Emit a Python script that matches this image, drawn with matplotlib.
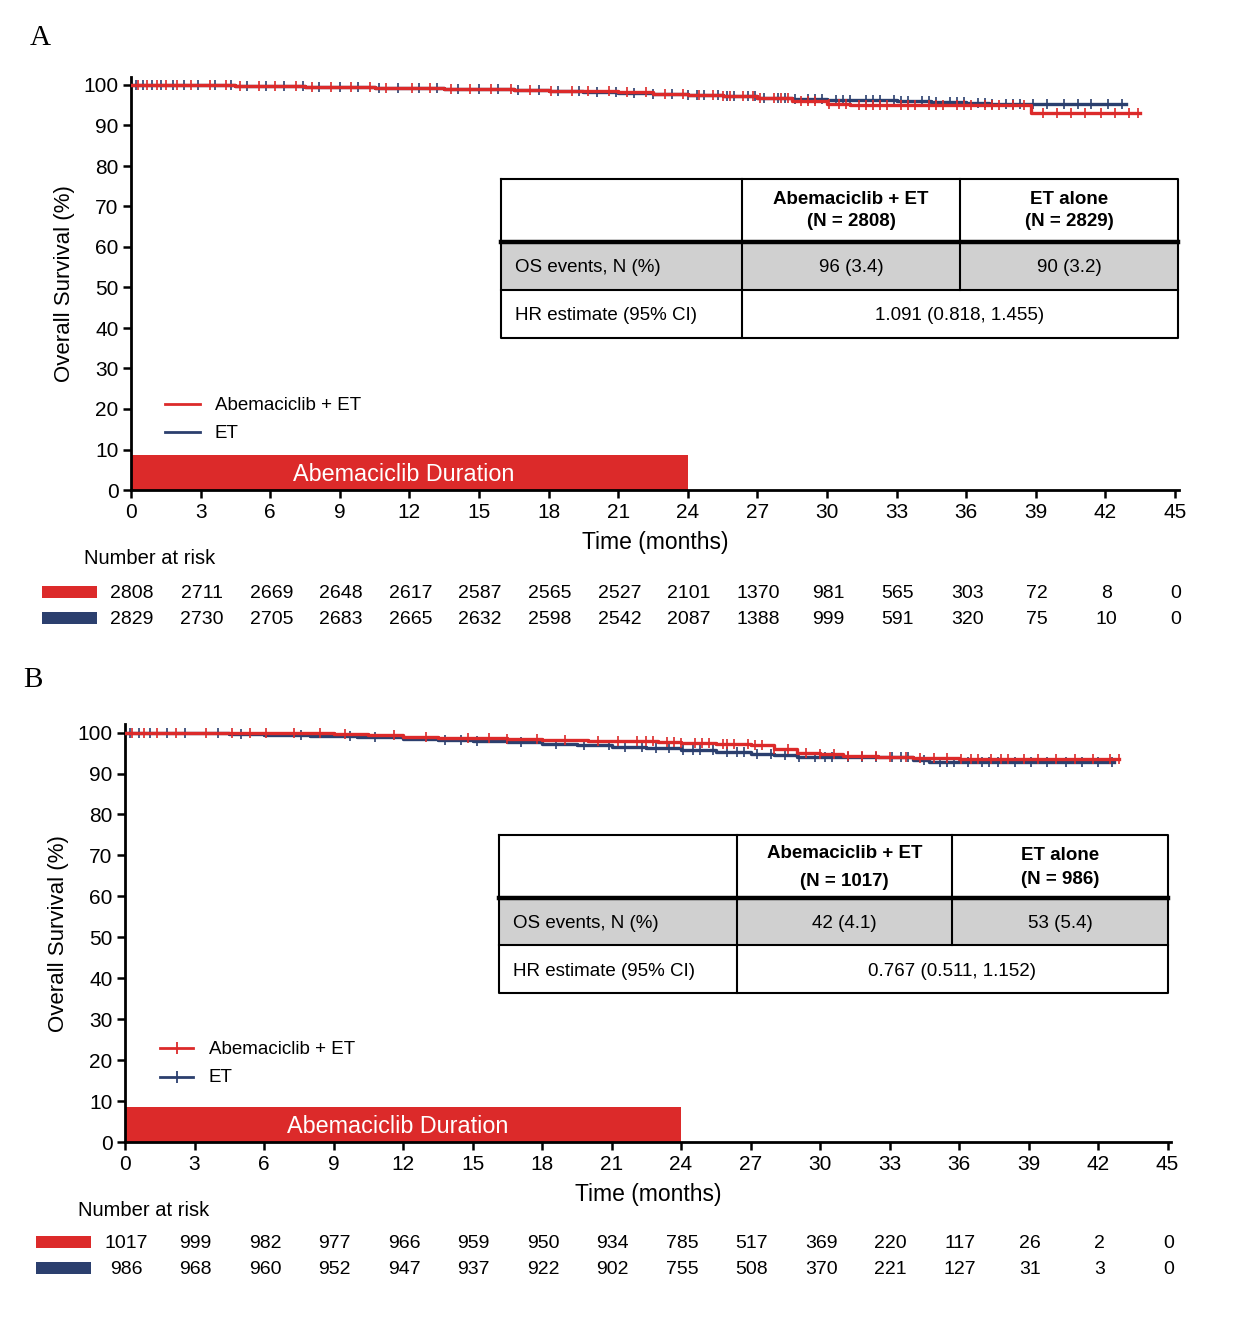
import numpy as np
import matplotlib
matplotlib.use("Agg")
import matplotlib.pyplot as plt
from matplotlib.patches import Rectangle
from matplotlib.lines import Line2D

plt.rcParams['font.family'] = ['Liberation Sans', 'DejaVu Sans']

RED = '#dc2a2a'
BLUE = '#2b3f6e'

# ---------------- data ----------------
xticks = [0, 3, 6, 9, 12, 15, 18, 21, 24, 27, 30, 33, 36, 39, 42, 45]

# Panel A
a_red_t = [0, 1.5, 3, 4.5, 6, 7.5, 9, 10.5, 12, 13.5, 15, 16.5, 18, 19.5, 21, 22.5, 24, 25.5,
           27, 28.5, 30, 31, 32, 38.8, 43.5]
a_red_s = [100, 99.95, 99.9, 99.8, 99.7, 99.6, 99.5, 99.35, 99.2, 99.05, 98.9, 98.75, 98.6, 98.4,
           98.2, 97.9, 97.6, 97.2, 96.7, 96.0, 95.4, 95.1, 95.0, 93.0, 93.0]
a_blue_t = [0, 1.5, 3, 4.5, 6, 7.5, 9, 10.5, 12, 13.5, 15, 16.5, 18, 19.5, 21, 22.5, 24, 25.5,
            27, 28.5, 30, 31.5, 33, 34.5, 36, 37, 38, 42.9]
a_blue_s = [100, 99.95, 99.9, 99.8, 99.7, 99.6, 99.5, 99.35, 99.2, 99.05, 98.9, 98.7, 98.5, 98.3,
            98.1, 97.8, 97.5, 97.2, 96.9, 96.6, 96.4, 96.25, 96.1, 95.85, 95.6, 95.4, 95.2, 95.2]
a_red_cens = [0.3, 0.7, 1.1, 1.5, 2.0, 2.6, 3.4, 4.1, 4.7, 5.5, 6.2, 7.1, 7.8, 8.6, 9.5, 10.3, 11.0,
              12.1, 12.9, 13.8, 14.6, 15.5, 16.4, 17.2, 18.1, 19.0, 19.7, 20.6, 21.4, 22.2, 23.0,
              23.8, 24.5, 25.1, 25.5, 25.8, 26.4, 26.8, 27.1, 27.7, 28.0, 28.3, 28.9, 29.2, 29.5,
              30.1, 30.5, 30.8, 31.4, 31.7, 32.0, 32.3, 32.6, 33.2, 33.5, 33.8, 34.4, 34.7, 35.0,
              35.6, 35.9, 36.2, 36.8, 37.1, 37.4, 38.0, 38.5, 39.3, 39.9, 40.5, 41.1, 41.8, 42.4,
              43.0, 43.4]
a_blue_cens = [0.2, 0.5, 0.9, 1.3, 1.8, 2.3, 2.9, 3.6, 4.3, 5.0, 5.8, 6.6, 7.4, 8.1, 9.0, 9.8, 10.7,
               11.5, 12.4, 13.2, 14.1, 15.0, 15.8, 16.7, 17.6, 18.4, 19.3, 20.1, 20.9, 21.7, 22.5,
               23.3, 24.0, 24.4, 24.7, 25.3, 25.7, 26.0, 26.6, 26.9, 27.3, 27.9, 28.2, 28.6, 29.2,
               29.5, 29.8, 30.4, 30.7, 31.0, 31.7, 32.0, 32.3, 32.9, 33.2, 33.5, 34.1, 34.4, 34.7,
               35.3, 35.6, 35.9, 36.5, 36.8, 37.1, 37.7, 38.0, 38.3, 38.9, 39.5, 40.2, 40.8, 41.4,
               42.1, 42.7]
a_risk_red = [2808, 2711, 2669, 2648, 2617, 2587, 2565, 2527, 2101, 1370, 981, 565, 303, 72, 8, 0]
a_risk_blue = [2829, 2730, 2705, 2683, 2665, 2632, 2598, 2542, 2087, 1388, 999, 591, 320, 75, 10, 0]
a_n = ["(N = 2808)", "(N = 2829)"]
a_os = ["96 (3.4)", "90 (3.2)"]
a_hr = "1.091 (0.818, 1.455)"

# Panel B
b_red_t = [0, 6, 7.5, 9, 10.5, 12, 13.5, 15, 16.5, 18, 20, 22, 23, 24, 25.5, 27, 28, 29, 30, 31,
           32.5, 34, 35, 36, 42.9]
b_red_s = [100, 99.9, 99.8, 99.6, 99.3, 99.0, 98.8, 98.6, 98.4, 98.2, 98.05, 97.9, 97.65, 97.4,
           97.2, 96.9, 96.0, 95.0, 94.7, 94.4, 94.15, 93.9, 93.75, 93.6, 93.6]
b_blue_t = [0, 1.5, 3, 4.5, 6, 7, 8, 10, 12, 13.5, 15, 16.5, 18, 19.5, 21, 22.5, 24, 25.5, 27, 28,
            29, 33, 34, 34.7, 42.7]
b_blue_s = [100, 99.9, 99.8, 99.6, 99.4, 99.3, 99.2, 98.85, 98.5, 98.25, 98.0, 97.65, 97.3, 96.95,
            96.6, 96.15, 95.7, 95.25, 94.8, 94.45, 94.1, 94.0, 93.4, 92.7, 92.7]
b_red_cens = [0.3, 0.8, 1.4, 2.2, 3.5, 4.6, 5.4, 6.1, 7.3, 8.4, 9.5, 11.6, 13.0, 14.8, 15.7, 16.5,
              17.8, 19.0, 20.4, 21.3, 22.1, 22.5, 22.8, 23.4, 23.7, 24.0, 24.6, 24.9, 25.2, 25.8,
              26.0, 26.3, 26.9, 27.2, 27.5, 28.0, 28.6, 29.4, 30.0, 30.6, 31.2, 31.8, 32.4, 33.0,
              33.7, 34.3, 34.9, 35.5, 36.1, 36.5, 36.8, 37.4, 37.8, 38.1, 38.8, 39.4, 40.2, 41.0,
              41.8, 42.5, 42.9]
b_blue_cens = [0.2, 0.6, 1.1, 1.8, 2.6, 4.0, 5.0, 7.6, 9.7, 10.8, 13.8, 14.5, 15.2, 17.1, 18.6,
               19.8, 20.9, 21.6, 22.3, 22.9, 23.5, 24.1, 24.5, 24.8, 25.4, 26.0, 26.4, 26.7, 27.3,
               27.9, 28.5, 29.1, 29.8, 30.2, 30.5, 31.2, 31.8, 32.4, 33.1, 33.5, 33.8, 34.5, 35.2,
               35.5, 35.8, 36.4, 37.0, 37.3, 37.7, 38.4, 39.1, 39.8, 40.6, 41.3, 42.0, 42.6]
b_risk_red = [1017, 999, 982, 977, 966, 959, 950, 934, 785, 517, 369, 220, 117, 26, 2, 0]
b_risk_blue = [986, 968, 960, 952, 947, 937, 922, 902, 755, 508, 370, 221, 127, 31, 3, 0]
b_n = ["(N = 1017)", "(N = 986)"]
b_os = ["42 (4.1)", "53 (5.4)"]
b_hr = "0.767 (0.511, 1.152)"

# ---------------- figure ----------------
W, H = 1248, 1317
fig = plt.figure(figsize=(W / 100, H / 100), dpi=100)
ov = fig.add_axes([0, 0, 1, 1], zorder=10)
ov.set_xlim(0, W)
ov.set_ylim(H, 0)
ov.axis('off')
ov.patch.set_alpha(0)


def surv_at(t, times, surv):
    idx = np.searchsorted(times, t, side='right') - 1
    return np.array(surv)[idx]


def panel(rect, rt, rs, bt, bs, rc, bc):
    ax = fig.add_axes(rect)
    ax.set_xlim(0, 45.15)
    ax.set_ylim(0, 102)
    for s in ['top', 'right']:
        ax.spines[s].set_visible(False)
    for s in ['left', 'bottom']:
        ax.spines[s].set_linewidth(2)
    ax.set_xticks(xticks)
    ax.set_yticks(range(0, 101, 10))
    ax.tick_params(axis='both', labelsize=15, width=1.8, length=6, pad=3)
    ax.bar([12], [8.6], width=24, bottom=0, color=RED, zorder=1)
    ax.text(11.75, 3.8, "Abemaciclib Duration", color='white', ha='center', va='center',
            fontsize=16.8, zorder=2)
    ax.step(bt, bs, where='post', color=BLUE, lw=2.4, zorder=3)
    ax.plot(bc, surv_at(bc, bt, bs), ls='none', marker='|', ms=7, mew=1.2, color=BLUE, zorder=3)
    ax.step(rt, rs, where='post', color=RED, lw=2.4, zorder=4)
    ax.plot(rc, surv_at(rc, rt, rs), ls='none', marker='|', ms=7, mew=1.2, color=RED, zorder=4)
    ax.set_xlabel("Time (months)", fontsize=16.5, labelpad=7)
    ax.set_ylabel("Overall Survival (%)", fontsize=16, labelpad=6)
    return ax


def risk_rows(ax, y1, y2, rr, rb):
    inv = ax.transAxes.inverted()
    for x, a, b in zip(xticks, rr, rb):
        for y, v in ((y1, a), (y2, b)):
            disp = fig.transFigure.transform((0, (H - y) / H))
            ya = inv.transform((0, disp[1]))[1]
            ax.text(x + 0.05, ya, str(v), transform=ax.get_xaxis_transform(), fontsize=14,
                    ha='center', va='center', clip_on=False)


def table(x0, x1, c1, c2, y0, y1, y2, y3, ns, os_, hr, hdr_y):
    ov.add_patch(Rectangle((x0, y1), x1 - x0, y2 - y1, color='#d0d0d0', lw=0))
    lw = 1.5
    ov.plot([x0, x1, x1, x0, x0], [y0, y0, y3, y3, y0], color='black', lw=lw)
    ov.plot([x0, x1], [y1, y1], color='black', lw=3.2)
    ov.plot([x0, x1], [y2, y2], color='black', lw=lw)
    ov.plot([c1, c1], [y0, y3], color='black', lw=lw)
    ov.plot([c2, c2], [y0, y2], color='black', lw=lw)
    m1 = (c1 + c2) / 2
    m2 = (c2 + x1) / 2
    ov.text(m1, hdr_y[0], "Abemaciclib + ET", fontsize=13.5, weight='bold', ha='center', va='center')
    ov.text(m1, hdr_y[1], ns[0], fontsize=13.5, weight='bold', ha='center', va='center')
    ov.text(m2, hdr_y[2], "ET alone", fontsize=13.5, weight='bold', ha='center', va='center')
    ov.text(m2, hdr_y[3], ns[1], fontsize=13.5, weight='bold', ha='center', va='center')
    ry = (y1 + y2) / 2 + 2
    hy = (y2 + y3) / 2 + 2
    ov.text(x0 + 14, ry, "OS events, N (%)", fontsize=13.5, ha='left', va='center')
    ov.text(m1, ry, os_[0], fontsize=13.5, ha='center', va='center')
    ov.text(m2, ry, os_[1], fontsize=13.5, ha='center', va='center')
    ov.text(x0 + 14, hy, "HR estimate (95% CI)", fontsize=13.5, ha='left', va='center')
    ov.text((c1 + x1) / 2, hy, hr, fontsize=13.5, ha='center', va='center')


def legend(x0, x1, xt, y1, y2, markers):
    ov.add_line(Line2D([x0, x1], [y1, y1], color=RED, lw=2))
    ov.add_line(Line2D([x0, x1], [y2, y2], color=BLUE, lw=2))
    if markers:
        ov.plot([(x0 + x1) / 2], [y1], marker='|', ms=8, mew=1.3, color=RED)
        ov.plot([(x0 + x1) / 2], [y2], marker='|', ms=8, mew=1.3, color=BLUE)
    ov.text(xt, y1 + 1, "Abemaciclib + ET", fontsize=13.5, ha='left', va='center')
    ov.text(xt, y2 + 1, "ET", fontsize=13.5, ha='left', va='center')


# Panel A
axA = panel([131 / W, 1 - 490 / H, 1047.5 / W, 413.1 / H],
            a_red_t, a_red_s, a_blue_t, a_blue_s,
            np.array(a_red_cens), np.array(a_blue_cens))
ov.text(40, 38, "A", fontsize=21, family='Liberation Serif', ha='center', va='center')
ov.text(84, 558, "Number at risk", fontsize=14.5, ha='left', va='center')
ov.add_patch(Rectangle((42, 586), 55, 12, color=RED, lw=0))
ov.add_patch(Rectangle((42, 612), 55, 12, color=BLUE, lw=0))
risk_rows(axA, 593, 619, a_risk_red, a_risk_blue)
table(501, 1178, 742, 960, 179, 242, 290, 338, a_n, a_os, a_hr, [199, 222, 199, 222])
legend(165, 200, 215, 404, 432, False)

# Panel B
axB = panel([125 / W, 1 - 1142 / H, 1046 / W, 417.6 / H],
            b_red_t, b_red_s, b_blue_t, b_blue_s,
            np.array(b_red_cens), np.array(b_blue_cens))
ov.text(33, 680, "B", fontsize=21, family='Liberation Serif', ha='center', va='center')
ov.text(78, 1211, "Number at risk", fontsize=14.5, ha='left', va='center')
ov.add_patch(Rectangle((36, 1236), 55, 12, color=RED, lw=0))
ov.add_patch(Rectangle((36, 1262), 55, 12, color=BLUE, lw=0))
risk_rows(axB, 1243, 1269, b_risk_red, b_risk_blue)
table(499, 1168, 737, 952, 835, 898, 945, 993, b_n, b_os, b_hr, [853, 881, 856, 879])
legend(160, 193, 209, 1048, 1077, True)

fig.savefig("out.png", dpi=100)
